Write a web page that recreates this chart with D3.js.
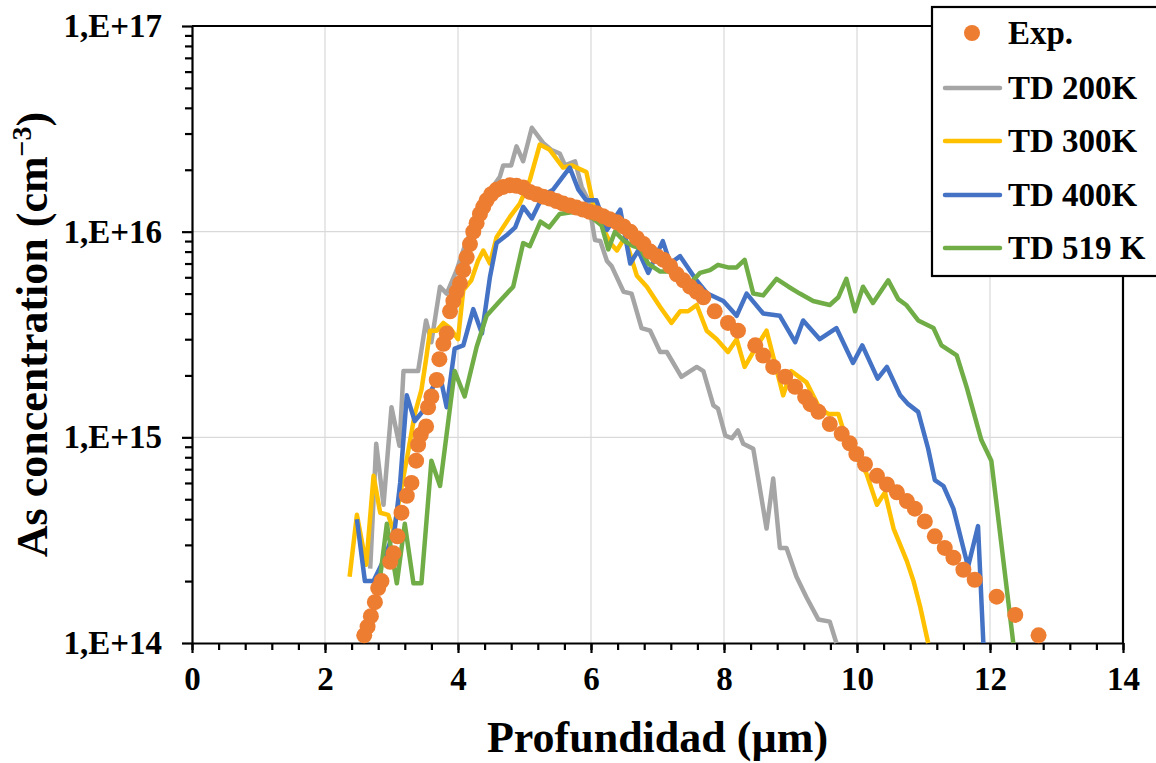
<!DOCTYPE html>
<html lang="es">
<head>
<meta charset="UTF-8">
<title>As concentration vs profundidad</title>
<script src="https://d3js.org/d3.v7.min.js"></script>
<style>
  body { margin: 0; background: #fff; }
  svg { display: block; font-family: "Liberation Serif", "Times New Roman", serif; font-weight: bold; }
  .grid line { stroke: #d9d9d9; stroke-width: 1.2; }
  .axis path, .axis line { stroke: #000; stroke-width: 2.2; }
  .axis text { font-size: 33px; fill: #000; font-family: "Liberation Serif", serif; font-weight: bold; }
</style>
</head>
<body>
<svg id="chart" width="1156" height="763"></svg>
<script>
// Exp. (SIMS) points
const expX = [2.59, 2.64, 2.69, 2.75, 2.80, 2.85, 2.98, 3.03, 3.09, 3.15, 3.23, 3.30, 3.37, 3.40, 3.44,
  3.52, 3.55, 3.60, 3.68, 3.72, 3.78, 3.83, 3.88, 3.93, 3.98, 4.03, 4.08, 4.13, 4.18, 4.23, 4.28, 4.33,
  4.38, 4.43, 4.50, 4.58, 4.68, 4.78, 4.88, 4.98, 5.08, 5.18, 5.28, 5.38, 5.48, 5.58, 5.68, 5.78, 5.88,
  5.98, 6.08, 6.18, 6.28, 6.39, 6.49, 6.59, 6.69, 6.79, 6.89, 6.99, 7.09, 7.19, 7.29, 7.39, 7.49, 7.59,
  7.69, 7.86, 8.06, 8.21, 8.47, 8.59, 8.74, 8.92, 9.07, 9.22, 9.30, 9.42, 9.59, 9.77, 9.89, 9.99, 10.12,
  10.30, 10.45, 10.60, 10.75, 10.87, 11.02, 11.17, 11.32, 11.45, 11.60, 11.77, 12.10, 12.38, 12.73];
const expY = [1.09e14, 1.2e14, 1.35e14, 1.58e14, 1.85e14, 2.0e14, 2.48e14, 2.73e14, 3.3e14, 4.3e14, 5.2e14,
  6.0e14, 7.7e14, 9.2e14, 1.03e15, 1.13e15, 1.4e15, 1.58e15, 1.9e15, 2.4e15, 2.85e15, 3.2e15, 4.1e15,
  4.6e15, 5.1e15, 5.6e15, 6.5e15, 7.5e15, 8.7e15, 1.0e16, 1.1e16, 1.22e16, 1.32e16, 1.42e16, 1.52e16,
  1.6e16, 1.65e16, 1.68e16, 1.67e16, 1.64e16, 1.56e16, 1.52e16, 1.48e16, 1.45e16, 1.41e16, 1.37e16,
  1.34e16, 1.31e16, 1.28e16, 1.25e16, 1.23e16, 1.19e16, 1.15e16, 1.11e16, 1.06e16, 1.0e16, 9.3e15,
  8.7e15, 8.0e15, 7.6e15, 7.3e15, 6.8e15, 6.2e15, 5.8e15, 5.4e15, 5.1e15, 4.8e15, 4.1e15, 3.6e15,
  3.3e15, 2.8e15, 2.5e15, 2.2e15, 1.97e15, 1.76e15, 1.57e15, 1.45e15, 1.33e15, 1.16e15, 1.04e15,
  9.35e14, 8.3e14, 7.4e14, 6.5e14, 5.9e14, 5.4e14, 4.9e14, 4.5e14, 3.9e14, 3.3e14, 2.9e14, 2.6e14,
  2.27e14, 2.03e14, 1.68e14, 1.37e14, 1.09e14];

// TD 200K
const td200X = [2.68, 2.77, 2.88, 3.00, 3.12, 3.18, 3.40, 3.52, 3.60, 3.73, 3.83, 3.98, 4.10, 4.25, 4.40,
  4.55, 4.63, 4.68, 4.80, 4.88, 4.98, 5.11, 5.28, 5.40, 5.53, 5.61, 5.76, 5.86, 5.96, 6.06, 6.14, 6.24,
  6.31, 6.49, 6.61, 6.76, 6.89, 7.04, 7.14, 7.36, 7.59, 7.69, 7.84, 7.91, 8.02, 8.12, 8.21, 8.29, 8.44,
  8.64, 8.74, 8.84, 8.94, 9.09, 9.24, 9.42, 9.59, 9.69];
const td200Y = [2.3e14, 9.3e14, 4.7e14, 1.4e15, 9.1e14, 2.1e15, 2.1e15, 3.7e15, 2.9e15, 5.4e15, 5.0e15,
  6.5e15, 8.5e15, 1.1e16, 1.4e16, 1.7e16, 1.85e16, 2.1e16, 2.1e16, 2.6e16, 2.2e16, 3.2e16, 2.7e16,
  2.5e16, 2.4e16, 2.1e16, 2.2e16, 1.65e16, 1.42e16, 9.1e15, 9.0e15, 7.2e15, 6.8e15, 5.1e15, 5.0e15,
  3.4e15, 3.3e15, 2.6e15, 2.6e15, 1.97e15, 2.2e15, 2.1e15, 1.43e15, 1.38e15, 1.02e15, 9.9e14, 1.08e15,
  9.3e14, 8.8e14, 3.6e14, 6.3e14, 2.9e14, 2.9e14, 2.1e14, 1.67e14, 1.3e14, 1.27e14, 1.0e14];

// TD 300K
const td300X = [2.37, 2.48, 2.62, 2.73, 2.83, 2.95, 3.03, 3.15, 3.25, 3.35, 3.45, 3.52, 3.58, 3.68, 3.78,
  3.88, 4.00, 4.08, 4.20, 4.30, 4.38, 4.48, 4.58, 4.78, 4.93, 5.08, 5.23, 5.38, 5.58, 5.71, 5.93, 6.03,
  6.15, 6.29, 6.39, 6.51, 6.69, 6.84, 7.04, 7.21, 7.34, 7.46, 7.59, 7.74, 7.89, 8.06, 8.19, 8.31, 8.47,
  8.64, 8.89, 9.01, 9.24, 9.44, 9.57, 9.72, 9.84, 10.14, 10.30, 10.42, 10.55, 10.75, 10.85, 10.95, 11.07];
const td300Y = [2.1e14, 4.2e14, 2.4e14, 6.5e14, 4.3e14, 4.2e14, 3.5e14, 5.7e14, 8.5e14, 1.3e15, 1.7e15,
  2.4e15, 3.3e15, 3.3e15, 3.6e15, 3.4e15, 3.0e15, 5.2e15, 5.8e15, 7.2e15, 8.1e15, 7.0e15, 9.4e15,
  1.18e16, 1.37e16, 1.78e16, 2.65e16, 2.5e16, 2.05e16, 2.1e16, 1.95e16, 1.37e16, 1.1e16, 8.8e15, 8.1e15,
  9.4e15, 6.1e15, 5.4e15, 4.3e15, 3.6e15, 4.1e15, 4.1e15, 4.4e15, 3.3e15, 3.0e15, 2.6e15, 3.0e15,
  2.2e15, 2.7e15, 3.3e15, 1.6e15, 2.1e15, 1.85e15, 1.38e15, 1.3e15, 1.3e15, 9.7e14, 6.7e14, 4.7e14,
  5.4e14, 3.6e14, 2.5e14, 2.0e14, 1.5e14, 1.0e14];

// TD 400K
const td400X = [2.48, 2.60, 2.73, 2.90, 3.05, 3.13, 3.23, 3.35, 3.48, 3.60, 3.73, 3.83, 3.95, 4.08, 4.23,
  4.36, 4.48, 4.58, 4.73, 4.86, 4.98, 5.11, 5.28, 5.43, 5.68, 5.81, 5.93, 6.08, 6.24, 6.44, 6.59, 6.71,
  6.86, 7.08, 7.19, 7.34, 7.57, 7.75, 7.99, 8.19, 8.34, 8.59, 8.84, 9.07, 9.19, 9.44, 9.69, 9.94, 10.08,
  10.31, 10.45, 10.65, 10.77, 10.92, 11.07, 11.17, 11.30, 11.45, 11.67, 11.82, 11.90];
const td400Y = [4.0e14, 2.0e14, 2.0e14, 2.6e14, 3.6e14, 6.0e14, 1.6e15, 1.2e15, 1.35e15, 1.7e15, 2.0e15,
  1.4e15, 2.7e15, 2.8e15, 4.2e15, 3.2e15, 6.0e15, 8.8e15, 9.6e15, 1.05e16, 1.32e16, 1.16e16, 1.5e16,
  1.6e16, 2.05e16, 1.6e16, 1.42e16, 1.42e16, 1.02e16, 1.28e16, 7.0e15, 8.1e15, 6.3e15, 9.0e15, 7.0e15,
  7.6e15, 5.9e15, 5.0e15, 4.6e15, 3.9e15, 5.0e15, 4.0e15, 3.9e15, 2.9e15, 3.7e15, 3.0e15, 3.4e15,
  2.3e15, 2.8e15, 1.93e15, 2.2e15, 1.6e15, 1.45e15, 1.33e15, 8.8e14, 6.2e14, 5.8e14, 4.5e14, 2.35e14,
  3.7e14, 1.0e14];

// TD 519 K
const td519X = [2.83, 2.93, 3.08, 3.20, 3.33, 3.45, 3.60, 3.73, 3.95, 4.10, 4.28, 4.43, 4.63, 4.83, 4.98,
  5.08, 5.24, 5.37, 5.53, 5.68, 5.85, 6.03, 6.16, 6.26, 6.36, 6.50, 6.64, 6.74, 6.86, 7.04, 7.19, 7.34,
  7.51, 7.64, 7.79, 7.91, 8.06, 8.19, 8.31, 8.44, 8.59, 8.79, 8.97, 9.14, 9.34, 9.59, 9.72, 9.84, 9.97,
  10.09, 10.24, 10.47, 10.62, 10.74, 10.92, 11.15, 11.27, 11.50, 11.65, 11.87, 12.02, 12.35];
const td519Y = [2.1e14, 3.8e14, 1.95e14, 3.8e14, 1.95e14, 1.95e14, 7.7e14, 5.8e14, 2.1e15, 1.58e15,
  2.75e15, 3.9e15, 4.6e15, 5.4e15, 8.8e15, 8.5e15, 1.12e16, 1.05e16, 1.22e16, 1.24e16, 1.25e16,
  1.16e16, 1.07e16, 8.2e15, 1.0e16, 9.0e15, 8.5e15, 8.3e15, 7.0e15, 6.4e15, 6.4e15, 5.8e15, 5.7e15,
  6.3e15, 6.5e15, 6.9e15, 6.7e15, 6.7e15, 7.3e15, 5.0e15, 4.9e15, 5.9e15, 5.4e15, 5.0e15, 4.6e15,
  4.4e15, 4.8e15, 5.9e15, 4.1e15, 5.4e15, 4.5e15, 5.8e15, 4.7e15, 4.4e15, 3.7e15, 3.4e15, 2.8e15,
  2.5e15, 1.75e15, 9.7e14, 7.7e14, 1.0e14];

const xTicks = [0, 2, 4, 6, 8, 10, 12, 14];
const yTicks = [1e14, 1e15, 1e16, 1e17];
const yTickLabels = ["1,E+14", "1,E+15", "1,E+16", "1,E+17"];

const series = [
  { name: "TD 200K", xs: td200X, ys: td200Y, color: "#a5a5a5" },
  { name: "TD 300K", xs: td300X, ys: td300Y, color: "#ffc000" },
  { name: "TD 400K", xs: td400X, ys: td400Y, color: "#4472c4" },
  { name: "TD 519 K", xs: td519X, ys: td519Y, color: "#70ad47" }
];
const expColor = "#ed7d31";

const plotLeft = 192, plotRight = 1123, plotTop = 26, plotBottom = 643;

const svg = d3.select("#chart");

const x = d3.scaleLinear().domain([0, 14]).range([plotLeft, plotRight]);
const y = d3.scaleLog().domain([1e14, 1e17]).range([plotBottom, plotTop]);

// gridlines
const grid = svg.append("g").attr("class", "grid");
grid.selectAll("line.v")
  .data(xTicks.slice(1, -1))
  .join("line")
  .attr("class", "v")
  .attr("x1", d => x(d)).attr("x2", d => x(d))
  .attr("y1", plotTop).attr("y2", plotBottom);
grid.selectAll("line.h")
  .data(yTicks.slice(1, -1))
  .join("line")
  .attr("class", "h")
  .attr("x1", plotLeft).attr("x2", plotRight)
  .attr("y1", d => y(d)).attr("y2", d => y(d));

// minor ticks
const xMinor = d3.range(0, 14.001, 0.4).map(v => +v.toFixed(1));
svg.append("g")
  .attr("class", "axis")
  .attr("transform", `translate(0,${plotBottom})`)
  .call(d3.axisBottom(x).tickValues(xMinor).tickSize(7).tickFormat(""))
  .call(g => g.select(".domain").remove());

const yMinor = [];
[1e14, 1e15, 1e16].forEach(dec => { for (let k = 2; k <= 9; k++) yMinor.push(dec * k); });
svg.append("g")
  .attr("class", "axis")
  .attr("transform", `translate(${plotLeft},0)`)
  .call(d3.axisLeft(y).tickValues(yMinor).tickSize(7).tickFormat(""))
  .call(g => g.select(".domain").remove());

// major axes
svg.append("g")
  .attr("class", "axis")
  .attr("transform", `translate(0,${plotBottom})`)
  .call(d3.axisBottom(x).tickValues(xTicks).tickSize(10).tickSizeOuter(0).tickPadding(14).tickFormat(d3.format("d")));

svg.append("g")
  .attr("class", "axis")
  .attr("transform", `translate(${plotLeft},0)`)
  .call(d3.axisLeft(y).tickValues(yTicks).tickSize(10).tickSizeOuter(0).tickPadding(20)
    .tickFormat((d, i) => yTickLabels[i]));

// top and right frame
svg.append("line").attr("x1", plotLeft).attr("x2", plotRight).attr("y1", plotTop).attr("y2", plotTop)
  .attr("stroke", "#000").attr("stroke-width", 2.2);
svg.append("line").attr("x1", plotRight).attr("x2", plotRight).attr("y1", plotTop).attr("y2", plotBottom)
  .attr("stroke", "#000").attr("stroke-width", 2.2);

// simulated profiles
const line = d3.line().x(d => x(d[0])).y(d => y(d[1]));
svg.append("g")
  .selectAll("path")
  .data(series)
  .join("path")
  .attr("d", s => line(s.xs.map((v, i) => [v, s.ys[i]])))
  .attr("fill", "none")
  .attr("stroke", s => s.color)
  .attr("stroke-width", 4.5)
  .attr("stroke-linejoin", "round");

// experimental dots
svg.append("g")
  .selectAll("circle")
  .data(expX.map((v, i) => [v, expY[i]]))
  .join("circle")
  .attr("cx", d => x(d[0]))
  .attr("cy", d => y(d[1]))
  .attr("r", 8)
  .attr("fill", expColor);

// axis titles
svg.append("text")
  .attr("x", (plotLeft + plotRight) / 2)
  .attr("y", 752)
  .attr("text-anchor", "middle")
  .style("font-size", "44px")
  .text("Profundidad (µm)");

const yTitle = svg.append("text")
  .attr("transform", `translate(47,${(plotTop + plotBottom) / 2}) rotate(-90)`)
  .attr("text-anchor", "middle")
  .style("font-size", "44px");
yTitle.append("tspan").text("As concentration (cm");
yTitle.append("tspan").attr("dy", -16).style("font-size", "28px").text("−3");
yTitle.append("tspan").attr("dy", 16).text(")");

// legend
const legend = svg.append("g");
legend.append("rect")
  .attr("x", 932).attr("y", 7).attr("width", 240).attr("height", 269)
  .attr("fill", "#fff").attr("stroke", "#000").attr("stroke-width", 2.2);

const legendItems = [{ name: "Exp.", color: expColor, dot: true }].concat(series);
const rowY = [33, 88, 141, 195, 248];
legendItems.forEach((item, i) => {
  const g = legend.append("g").attr("transform", `translate(0,${rowY[i]})`);
  if (item.dot) {
    g.append("circle").attr("cx", 972).attr("cy", 0).attr("r", 8).attr("fill", item.color);
  } else {
    g.append("line").attr("x1", 945).attr("x2", 1000).attr("y1", 0).attr("y2", 0)
      .attr("stroke", item.color).attr("stroke-width", 4.5).attr("stroke-linecap", "round");
  }
  g.append("text").attr("x", 1008).attr("y", 11).style("font-size", "33px").text(item.name);
});
</script>
</body>
</html>
